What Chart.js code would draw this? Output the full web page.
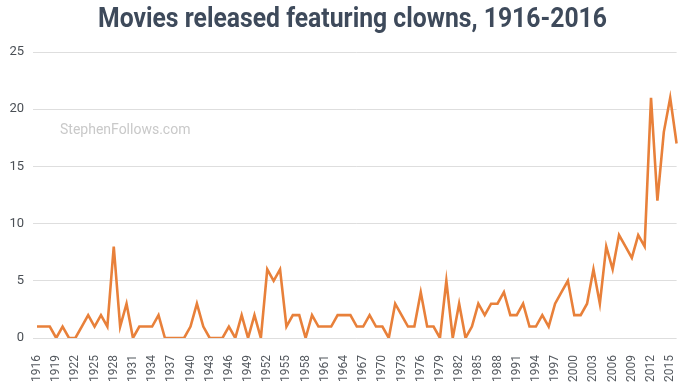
<!DOCTYPE html>
<html>
<head>
<meta charset="utf-8">
<script src="https://cdn.jsdelivr.net/npm/chart.js@4/dist/chart.umd.min.js"></script>
<style>
  html,body{margin:0;padding:0;background:#fff;}
  #wrap{width:700px;height:387px;position:relative;}
</style>
</head>
<body>
<div id="wrap"><canvas id="c" width="700" height="387"></canvas></div>
<script>
// one value per year, 1916..2016
const years = [];
for (let y = 1916; y <= 2016; y++) years.push(String(y));
const clownMovies = [
  1,1,1,0,1,0,0,1,2,1, // 1916-1925
  2,1,8,1,3,0,1,1,1,2, // 1926-1935
  0,0,0,0,1,3,1,0,0,0, // 1936-1945
  1,0,2,0,2,0,6,5,6,1, // 1946-1955
  2,2,0,2,1,1,1,2,2,2, // 1956-1965
  1,1,2,1,1,0,3,2,1,1, // 1966-1975
  4,1,1,0,5,0,3,0,1,3, // 1976-1985
  2,3,3,4,2,2,3,1,1,2, // 1986-1995
  1,3,4,5,2,2,3,6,3,8, // 1996-2005
  6,9,8,7,9,8,21,12,18,21, // 2006-2015
  17 // 2016
];
const yTicks = [0,5,10,15,20,25];
const titleText = "Movies released featuring clowns, 1916-2016";
const watermark = "StephenFollows.com";

const decor = {
  id: "decor",
  beforeDraw(chart) {
    const ctx = chart.ctx;
    ctx.save();
    ctx.font = "bold 27px Roboto";
    ctx.fillStyle = "#3e4a5b";
    ctx.textBaseline = "alphabetic";
    const w = ctx.measureText(titleText).width;
    const sx = 509 / w;
    ctx.translate(352.5, 27);
    ctx.scale(sx, 1);
    ctx.textAlign = "center";
    ctx.fillText(titleText, 0, 0);
    ctx.restore();

    ctx.save();
    ctx.font = "14px Roboto";
    ctx.fillStyle = "#c9c9c9";
    ctx.textBaseline = "middle";
    ctx.fillText(watermark, 60, 130);
    ctx.restore();
  }
};

new Chart(document.getElementById("c"), {
  type: "line",
  data: {
    labels: years,
    datasets: [{
      data: clownMovies,
      borderColor: "#e8803a",
      borderWidth: 2.6,
      pointRadius: 0,
      tension: 0,
      fill: false
    }]
  },
  options: {
    responsive: false,
    animation: false,
    layout: { padding: { top: 52, right: 13, left: 0, bottom: 0 } },
    plugins: { legend: { display: false }, tooltip: { enabled: false } },
    scales: {
      x: {
        grid: { display: false },
        border: { display: false },
        afterFit: (s) => { s.height = 49; },
        ticks: {
          autoSkip: false,
          minRotation: 90,
          maxRotation: 90,
          padding: 9,
          color: "#555a60",
          font: { family: "Roboto", size: 12 },
          callback: function (v, i) { return i % 3 === 0 ? this.getLabelForValue(v) : ""; }
        }
      },
      y: {
        min: 0,
        max: 25,
        afterBuildTicks: (ax) => { ax.ticks = yTicks.map(v => ({ value: v })); },
        afterFit: (s) => { s.width = 37; },
        border: { display: false },
        grid: { color: "#dedede", lineWidth: 1, drawTicks: true, tickLength: 4, tickColor: "#dedede" },
        ticks: {
          padding: 9,
          color: "#4a4f55",
          font: { family: "Roboto", size: 13 }
        }
      }
    }
  },
  plugins: [decor]
});
</script>
</body>
</html>
